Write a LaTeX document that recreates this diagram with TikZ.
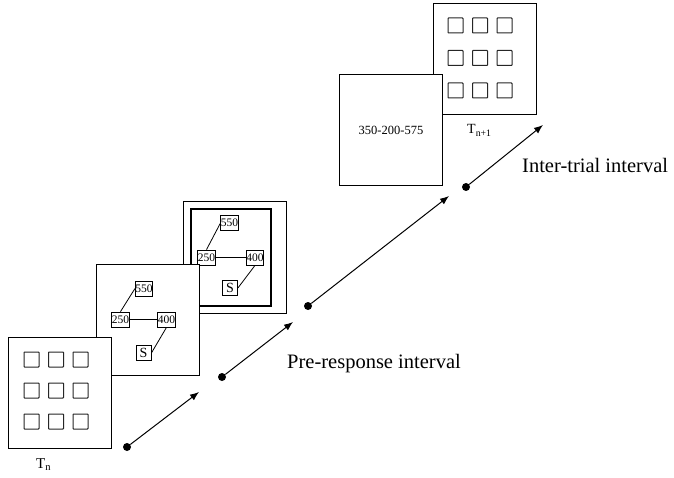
\documentclass[tikz,border=0pt]{standalone}
\usepackage{fontspec}
\setmainfont{Liberation Serif}
\usetikzlibrary{arrows.meta, positioning}

\tikzset{
  panel/.style={draw, fill=white, line width=1pt, minimum width=103pt, minimum height=111pt, inner sep=0pt},
  caja/.style={draw, fill=white, line width=0.8pt, minimum size=15pt, inner sep=0pt, font=\fontsize{11.5}{13}\selectfont},
  punto/.style={circle, fill=black, minimum size=8pt, inner sep=0pt},
  flecha/.style={line width=1pt, -{Latex[length=9pt,width=7pt]}},
  rotulo/.style={font=\fontsize{20.5}{24}\selectfont, inner sep=0pt, anchor=base west},
  cuadro/.style={rounded corners=0.6pt, line width=1pt, black!85},
  enlace/.style={line width=0.8pt},
}

\begin{document}
\begin{tikzpicture}[x=1pt, y=-1pt]
    \useasboundingbox (0,0) rectangle (674,478);
    % Pantalla T_{n+1}
    \node[panel] (p5) at (484.5,59) {};
    \foreach \i in {0,1,2} \foreach \j in {0,1,2}
        \draw[cuadro] (448+24.5*\i,18+32.5*\j) rectangle ++(15,15);
    \node[inner sep=0pt, anchor=base west, font=\fontsize{14}{16}\selectfont] (tn1) at (467,134) {T\textsubscript{n+1}};
    % Pantalla de respuesta
    \node[panel, font=\fontsize{12.5}{14}\selectfont] (p4) at (391,130.5) {350-200-575};
    % Tercera pantalla (marco grueso)
    \node[panel] (p3) at (234.5,257.5) {};
    \node[draw, line width=2.5pt, minimum width=80pt, minimum height=97pt] (marco) at (231,257.5) {};
    \node[caja] (b550) at (229.5,223) {550};
    \node[caja] (b250) at (206.5,257.5) {250};
    \node[caja] (b400) at (255,257.5) {400};
    \node[caja, font=\fontsize{14}{16}\selectfont] (bS) at (230,288) {S};
    \draw[enlace] (b250.north) -- (b550.west);
    \draw[enlace] (b250.east) -- (b400.west);
    \draw[enlace] (b400.south) -- (bS.east);
    % Segunda pantalla
    \node[panel] (p2) at (148,320) {};
    \node[caja] (a550) at (144,288.5) {550};
    \node[caja] (a250) at (120.5,319.5) {250};
    \node[caja] (a400) at (166.5,319.5) {400};
    \node[caja, font=\fontsize{14}{16}\selectfont] (aS) at (143.5,353) {S};
    \draw[enlace] (a250.north) -- (a550.west);
    \draw[enlace] (a250.east) -- (a400.west);
    \draw[enlace] (a400.south) -- (aS.east);
    % Pantalla T_n
    \node[panel] (p1) at (60,392.5) {};
    \foreach \i in {0,1,2} \foreach \j in {0,1,2}
        \draw[cuadro] (24+24.5*\i,352+31*\j) rectangle ++(15,15);
    \node[inner sep=0pt, anchor=base west, font=\fontsize{15}{17}\selectfont] (tn) at (36,468) {T\textsubscript{n}};
    % Flechas
    \node[punto] (d1) at (127,447) {};
    \node[punto] (d2) at (222,377) {};
    \node[punto] (d3) at (308,306) {};
    \node[punto] (d4) at (466,187) {};
    \coordinate (f1) at (199,392);
    \coordinate (f2) at (293,322);
    \coordinate (f3) at (449,196);
    \coordinate (f4) at (543,125);
    \draw[flecha] (d1) -- (f1);
    \draw[flecha] (d2) -- (f2);
    \draw[flecha] (d3) -- (f3);
    \draw[flecha] (d4) -- (f4);
    \node[rotulo] (pre) at (287,368) {Pre-response interval};
    \node[rotulo] (inter) at (522,173) {Inter-trial interval};
\end{tikzpicture}
\end{document}
